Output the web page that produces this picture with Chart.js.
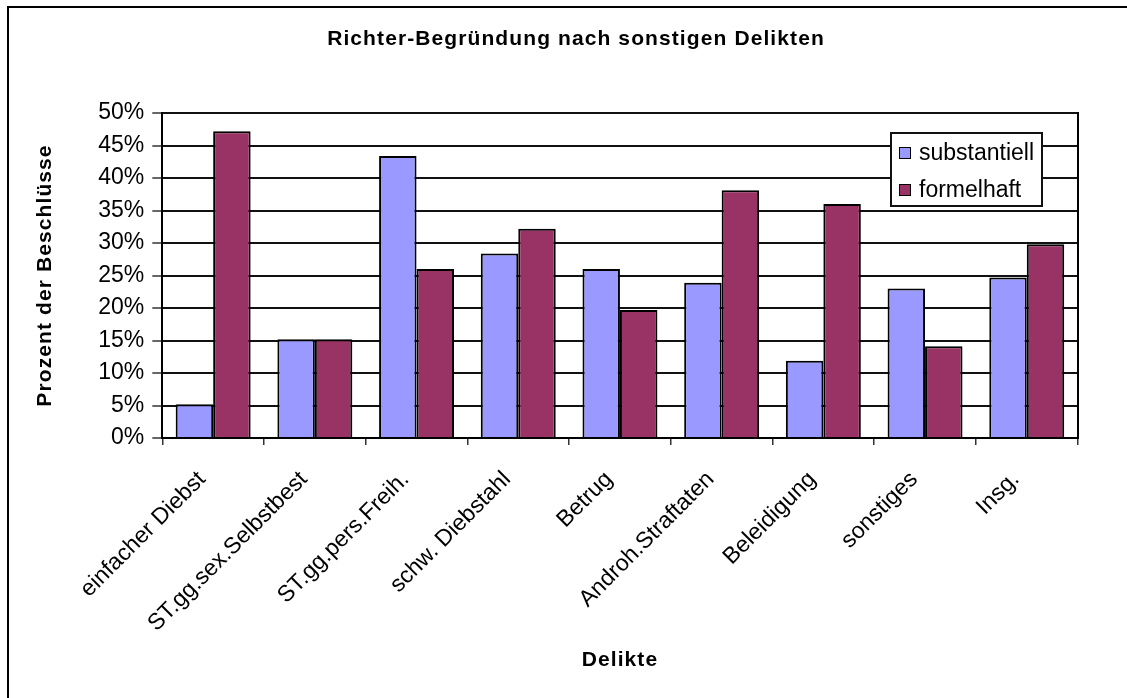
<!DOCTYPE html>
<html>
<head>
<meta charset="utf-8">
<script src="https://cdn.jsdelivr.net/npm/chart.js"></script>
<style>
html,body{margin:0;padding:0;background:#fff;}
#wrap{width:1127px;height:698px;position:relative;}
canvas{display:block;}
</style>
</head>
<body>
<div id="wrap"><canvas id="c" width="1127" height="698"></canvas></div>
<script>
// ---- data ----
const chartTitle = 'Richter-Begründung nach sonstigen Delikten';
const xAxisTitle = 'Delikte';
const yAxisTitle = 'Prozent der Beschlüsse';
const categories = ['einfacher Diebst', 'ST.gg.sex.Selbstbest', 'ST.gg.pers.Freih.', 'schw. Diebstahl', 'Betrug', 'Androh.Straftaten', 'Beleidigung', 'sonstiges', 'Insg.'];
const seriesNames = ['substantiell', 'formelhaft'];
const substantiell = [5.2, 15.2, 43.4, 28.4, 26.0, 23.9, 11.9, 23.0, 24.7];
const formelhaft = [47.2, 15.2, 26.0, 32.2, 19.7, 38.1, 36.0, 14.1, 29.8];
const yTickValues = [0, 5, 10, 15, 20, 25, 30, 35, 40, 45, 50];
const yTickLabels = ['0%', '5%', '10%', '15%', '20%', '25%', '30%', '35%', '40%', '45%', '50%'];

// ---- styles ----
const FONT = "'Liberation Sans', Arial, Helvetica, sans-serif";
const seriesColors = ['#9999FF', '#993366'];

const canvas = document.getElementById('c');
const ctx = canvas.getContext('2d');
const rawFill = CanvasRenderingContext2D.prototype.fillText;
ctx.fillText = function () {
  const prev = this.letterSpacing;
  this.letterSpacing = /bold/.test(this.font) ? '1.1px' : (this._ls || '0px');
  rawFill.apply(this, arguments);
  this.letterSpacing = prev;
};

Chart.defaults.font.family = FONT;
Chart.defaults.color = '#000';

const framePlugin = {
  id: 'frame',
  afterDraw(chart) {
    const c = chart.ctx;
    c.save();
    c.fillStyle = '#000';
    c.fillRect(7, 6, 1120, 2);
    c.fillRect(7, 6, 2, 692);
    c.restore();
  }
};

const boxLegend = {
  id: 'boxLegend',
  afterDatasetsDraw(chart) {
    const c = chart.ctx;
    c.save();
    c.fillStyle = '#fff';
    c.fillRect(890, 132, 153, 75);
    c.strokeStyle = '#111';
    c.lineWidth = 2;
    c.strokeRect(891, 133, 151, 73);
    chart.data.datasets.forEach((ds, i) => {
      const top = 147 + i * 36.5;
      c.fillStyle = ds.backgroundColor;
      c.fillRect(899, Math.round(top), 12, 12);
      c.strokeStyle = '#000';
      c.lineWidth = 1;
      c.strokeRect(899.5, Math.round(top) + 0.5, 11, 11);
      c.fillStyle = '#000';
      c.font = '23px ' + FONT;
      c.textAlign = 'left';
      c.textBaseline = 'alphabetic';
      c.fillText(ds.label, 919, 160 + i * 36.7);
    });
    c.restore();
  }
};

new Chart(ctx, {
  type: 'bar',
  data: {
    labels: categories,
    datasets: [
      { label: seriesNames[0], data: substantiell, backgroundColor: seriesColors[0], borderColor: '#000', borderWidth: 2 },
      { label: seriesNames[1], data: formelhaft, backgroundColor: seriesColors[1], borderColor: '#000', borderWidth: 2 }
    ]
  },
  options: {
    responsive: false,
    animation: false,
    devicePixelRatio: 1,
    layout: { padding: { left: 25, right: 0, top: 0, bottom: 0 } },
    datasets: { bar: { categoryPercentage: 0.737, barPercentage: 1.0 } },
    plugins: {
      legend: { display: false },
      tooltip: { enabled: false },
      title: {
        display: true,
        text: chartTitle,
        color: '#000',
        font: { size: 21, weight: 'bold', family: FONT, lineHeight: 1.2 },
        padding: { top: 27, bottom: 60.8 }
      }
    },
    scales: {
      x: {
        type: 'category',
        offset: true,
        grid: { display: true, drawOnChartArea: false, drawTicks: true, tickLength: 7, color: '#333', lineWidth: 1.5, offset: true },
        border: { display: true, color: '#000', width: 2 },
        ticks: { autoSkip: false, maxRotation: 45, minRotation: 45, padding: 21, labelOffset: -11, color: '#000', font: { size: 23, family: FONT } },
        title: { display: true, text: xAxisTitle, color: '#000', font: { size: 21, weight: 'bold', family: FONT, lineHeight: 1.2 }, padding: { top: 0, bottom: 25.4 } },
        afterFit(s) { s.height = 260; }
      },
      y: {
        type: 'linear',
        position: 'left',
        min: 0,
        max: 50,
        grid: { display: true, drawOnChartArea: true, drawTicks: true, tickLength: 10, color: '#111', lineWidth: 2, tickColor: '#333', tickWidth: 1.5 },
        border: { display: true, color: '#000', width: 2 },
        afterBuildTicks(s) { s.ticks = yTickValues.map(v => ({ value: v })); },
        ticks: {
          padding: 8,
          color: '#000',
          font: { size: 23, family: FONT },
          callback(v) { const i = yTickValues.indexOf(v); return i >= 0 ? yTickLabels[i] : ''; }
        },
        title: { display: true, text: yAxisTitle, color: '#000', font: { size: 21, weight: 'bold', family: FONT, lineHeight: 1.2 }, padding: { top: 7.9, bottom: 0 } },
        afterFit(s) { s.width = 137.3; }
      },
      yRight: {
        type: 'linear',
        position: 'right',
        display: true,
        grid: { display: false, drawTicks: false },
        ticks: { display: false },
        border: { display: true, color: '#000', width: 2 },
        title: { display: false },
        afterFit(s) { s.width = 49.4; }
      }
    }
  },
  plugins: [boxLegend, framePlugin]
});
</script>
</body>
</html>
